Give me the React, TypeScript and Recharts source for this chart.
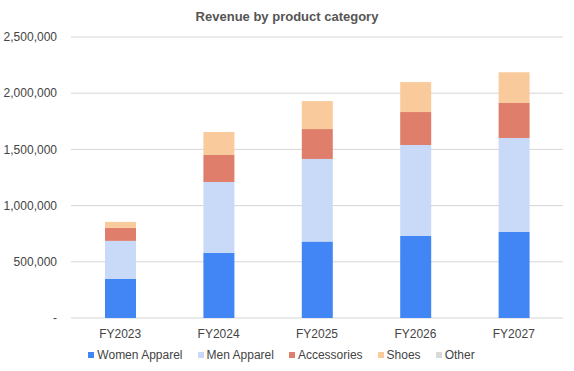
import { Bar, BarChart, XAxis, YAxis, CartesianGrid, Legend } from "recharts"

// Values
const years = ["FY2023", "FY2024", "FY2025", "FY2026", "FY2027"]
const womenApparel = [350000, 580000, 680000, 730000, 766000]
const menApparel = [336000, 630000, 735000, 809000, 835000]
const accessories = [116000, 240000, 266000, 293000, 311000]
const shoes = [53000, 205000, 249000, 267000, 275000]
const other = [0, 0, 0, 0, 0]
const yTicks = [0, 500000, 1000000, 1500000, 2000000, 2500000]

const series = [
  { key: "women", name: "Women Apparel", color: "#4285f4" },
  { key: "men", name: "Men Apparel", color: "#c9daf8" },
  { key: "accessories", name: "Accessories", color: "#df7e6b" },
  { key: "shoes", name: "Shoes", color: "#f9cb9c" },
  { key: "other", name: "Other", color: "#d9d9d9" },
]

const data = years.map((year, i) => ({
  year,
  women: womenApparel[i],
  men: menApparel[i],
  accessories: accessories[i],
  shoes: shoes[i],
  other: other[i],
}))

const font = "'Liberation Sans', Arial, sans-serif"

function LegendContent() {
  return (
    <div style={{ display: "flex", justifyContent: "center", fontFamily: font, fontSize: 12, color: "#444" }}>
      {series.map((s, i) => (
        <div
          key={s.key}
          style={{ display: "flex", alignItems: "center", marginRight: i < series.length - 1 ? 15 : 0 }}
        >
          <span style={{ width: 6, height: 6, background: s.color, display: "inline-block", marginRight: 3 }} />
          <span>{s.name}</span>
        </div>
      ))}
    </div>
  )
}

export default function App() {
  return (
    <div style={{ position: "absolute", left: 0, top: 0, width: 574, height: 371, background: "#fff" }}>
      <div
        style={{
          position: "absolute",
          top: 9,
          left: 0,
          width: 574,
          textAlign: "center",
          fontFamily: font,
          fontWeight: "bold",
          fontSize: 13,
          color: "#555",
        }}
      >
        Revenue by product category
      </div>
      <BarChart width={574} height={371} data={data} margin={{ top: 37, right: 11, bottom: 3, left: 0 }}>
        <CartesianGrid vertical={false} stroke="#d6d6d6" />
        <XAxis
          dataKey="year"
          axisLine={false}
          tickLine={false}
          height={30}
          tick={{ fontSize: 12, fill: "#444", fontFamily: font }}
          tickMargin={5}
        />
        <YAxis
          width={71}
          domain={[0, 2500000]}
          ticks={yTicks}
          axisLine={false}
          tickLine={false}
          tickMargin={8}
          tick={{ fontSize: 12, fill: "#444", fontFamily: font }}
          tickFormatter={(v: number) => (v === 0 ? "-" : v.toLocaleString("en-US"))}
        />
        <Legend verticalAlign="bottom" height={20} content={<LegendContent />} />
        {series.map((s) => (
          <Bar key={s.key} dataKey={s.key} name={s.name} stackId="a" fill={s.color} barSize={31} isAnimationActive={false} />
        ))}
      </BarChart>
    </div>
  )
}
